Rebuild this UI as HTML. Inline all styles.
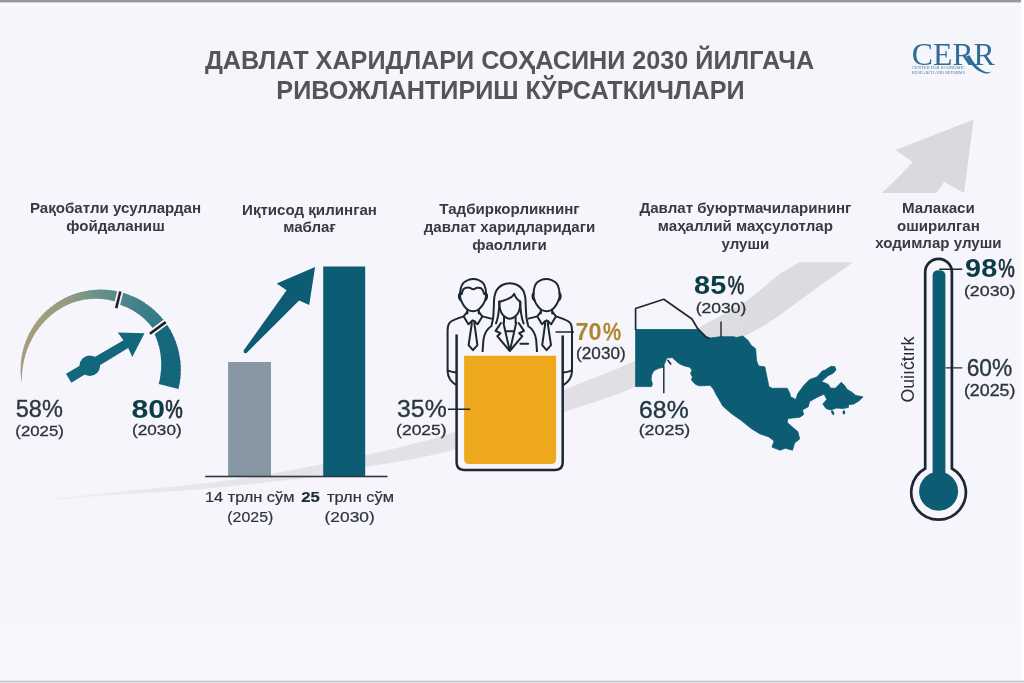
<!DOCTYPE html>
<html lang="uz"><head><meta charset="utf-8"><title>Давлат харидлари соҳасини 2030 йилгача ривожлантириш кўрсаткичлари</title>
<style>
html,body{margin:0;padding:0;background:#f6f5fb;overflow:hidden}
svg{display:block}
text{font-family:"Liberation Sans",sans-serif}
</style></head><body>
<svg width="1024" height="683" viewBox="0 0 1024 683">
<defs>
<linearGradient id="sw" gradientUnits="userSpaceOnUse" x1="40" y1="0" x2="980" y2="0">
<stop offset="0" stop-color="#f0eff4"/><stop offset="0.12" stop-color="#e8e7ec"/><stop offset="0.35" stop-color="#e3e2e7"/><stop offset="0.6" stop-color="#e0dfe4"/><stop offset="0.8" stop-color="#dcdbe0"/><stop offset="1" stop-color="#d9d9dd"/>
</linearGradient>
<linearGradient id="bgg" x1="0" y1="0" x2="0" y2="1"><stop offset="0" stop-color="#f5f6fb"/><stop offset="0.34" stop-color="#f6f5fb"/><stop offset="0.72" stop-color="#f6f5fb"/><stop offset="1" stop-color="#f9f6fc"/></linearGradient>
<linearGradient id="ga" gradientUnits="userSpaceOnUse" x1="22" y1="380" x2="165" y2="320">
<stop offset="0" stop-color="#a9a17c"/><stop offset="0.35" stop-color="#9a9c80"/><stop offset="0.6" stop-color="#6f928c"/><stop offset="0.8" stop-color="#4a858c"/><stop offset="1" stop-color="#2f7a88"/>
</linearGradient>
</defs>
<rect x="0" y="0" width="1024" height="683" fill="url(#bgg)"/>
<clipPath id="swc"><rect x="0" y="0" width="1024" height="193"/><rect x="0" y="262.2" width="1024" height="420"/></clipPath><path d="M40.0,499.0C45.0,498.7 62.2,497.7 70.0,497.0C77.8,496.3 75.0,496.3 87.0,495.0C99.0,493.7 122.3,491.4 142.0,489.4C161.7,487.4 182.2,486.0 205.0,483.2C227.8,480.4 259.4,475.5 279.0,472.3C298.6,469.1 308.1,466.9 322.5,464.0C336.9,461.1 343.2,460.5 365.3,455.1C387.4,449.8 421.5,442.9 454.8,431.9C488.1,420.9 535.2,401.0 565.4,389.1C595.5,377.2 613.0,371.0 635.7,360.5C658.4,350.0 683.0,336.1 701.5,326.2C720.0,316.2 733.7,309.3 746.4,300.8C759.1,292.3 768.9,281.8 777.7,275.4C786.5,268.9 788.7,270.3 799.1,262.1C809.5,253.9 826.2,237.6 840.0,226.0C853.8,214.4 869.9,203.4 882.0,192.8C894.1,182.2 907.6,167.3 912.7,162.2L895.6,150.1L973.7,119.4L964,193L943.7,181.8L943.7,181.8C942.4,183.6 943.9,185.3 935.8,192.8C927.7,200.3 908.8,215.4 895.0,227.0C881.2,238.6 865.9,251.9 852.9,262.1C839.9,272.3 829.2,279.1 816.7,288.1C804.2,297.2 789.7,308.4 777.7,316.4C765.7,324.4 768.3,324.1 744.5,335.9C720.7,347.7 664.9,374.4 635.0,387.0C605.1,399.6 595.4,401.3 565.4,411.7C535.4,422.1 488.1,440.3 454.8,449.6C421.5,458.9 387.4,463.1 365.3,467.4C343.2,471.7 336.9,473.2 322.5,475.5C308.1,477.8 298.6,478.8 279.0,481.0C259.4,483.2 227.8,486.6 205.0,488.7C182.2,490.8 161.7,491.9 142.0,493.3C122.3,494.7 99.0,496.0 87.0,496.9C75.0,497.8 77.8,498.0 70.0,498.4C62.2,498.8 45.0,499.1 40.0,499.3Z" fill="url(#sw)" clip-path="url(#swc)"/>
<rect x="0" y="0" width="1021" height="2.4" fill="#98989b"/>
<rect x="0" y="2.4" width="1021" height="1" fill="#d9d9dc"/>
<rect x="0" y="3.4" width="1024" height="2.2" fill="#fcfcfe"/>
<rect x="1021" y="0" width="3" height="683" fill="#fefefe"/>
<rect x="0" y="680" width="1024" height="1" fill="#ececee"/>
<rect x="0" y="681" width="1024" height="1" fill="#c4c4c6"/>
<rect x="0" y="682" width="1024" height="1" fill="#e6e6e8"/>
<g font-weight="bold" font-size="25.2" fill="#555558" text-anchor="middle"><text x="509.5" y="68.6">ДАВЛАТ ХАРИДЛАРИ СОҲАСИНИ 2030 ЙИЛГАЧА</text><text x="510.5" y="99">РИВОЖЛАНТИРИШ КЎРСАТКИЧЛАРИ</text></g>
<g fill="#2f6d96"><text x="911.8" y="64.7" style="font-family:'Liberation Serif',serif" font-size="31.5" textLength="83" lengthAdjust="spacingAndGlyphs">CERR</text><path d="M966.5,56 C970,64 976,71.6 985.5,73.4 C988,73.8 990,72.8 991.5,71.4 C989,72.4 987,72.4 984.5,71.4 C977,68 972.5,61 969.6,55.2Z"/><text x="912" y="69.4" font-size="3.6" style="font-family:'Liberation Serif',serif" textLength="53" lengthAdjust="spacingAndGlyphs" fill="#4f7fa0">CENTER FOR ECONOMIC</text><text x="912" y="73.6" font-size="3.6" style="font-family:'Liberation Serif',serif" textLength="53" lengthAdjust="spacingAndGlyphs" fill="#4f7fa0">RESEARCH AND REFORMS</text></g>
<g font-weight="bold" font-size="15.1" fill="#363a44" text-anchor="middle"><text x="115.5" y="213.4">Рақобатли усуллардан</text><text x="115.5" y="231.2">фойдаланиш</text></g>
<g font-weight="bold" font-size="15.1" fill="#363a44" text-anchor="middle"><text x="309.5" y="214.6">Иқтисод қилинган</text><text x="309.5" y="232.4">маблағ</text></g>
<g font-weight="bold" font-size="15.1" fill="#363a44" text-anchor="middle"><text x="509.5" y="214.0">Тадбиркорликнинг</text><text x="509.5" y="231.8">давлат харидларидаги</text><text x="509.5" y="249.6">фаоллиги</text></g>
<g font-weight="bold" font-size="15.1" fill="#363a44" text-anchor="middle"><text x="745.4" y="213.4">Давлат буюртмачиларининг</text><text x="745.4" y="231.2">маҳаллий маҳсулотлар</text><text x="745.4" y="249.0">улуши</text></g>
<g font-weight="bold" font-size="15.1" fill="#363a44" text-anchor="middle"><text x="938.4" y="212.7">Малакаси</text><text x="938.4" y="230.5">оширилган</text><text x="938.4" y="248.3">ходимлар улуши</text></g>
<rect x="228.1" y="362" width="42.9" height="114.5" fill="#8796a3"/>
<rect x="323.2" y="266.5" width="42" height="210" fill="#0c5d74"/>
<rect x="205.2" y="475.7" width="182.3" height="1.6" fill="#2c3a42"/>
<path d="M243.6,350.6 L286.6,290.2 L276.7,283.4 L315.1,267.1 L309.2,304.9 L299.1,300.5 L246.6,352.9 Q243.4,354.4 243.6,350.6Z" fill="#0c5d74"/>
<path d="M21.6,382.2L21.0,377.2L21.9,377.2L21.9,382.2Z" fill="#a69e7a"/><path d="M21.0,378.1L20.7,373.1L22.1,373.0L21.9,378.0Z" fill="#a69e7a"/><path d="M20.7,373.9L20.6,368.9L22.6,368.9L22.0,373.8Z" fill="#a69e7a"/><path d="M20.6,369.7L20.8,364.7L23.2,364.8L22.5,369.7Z" fill="#a59e7b"/><path d="M20.7,365.5L21.1,360.5L23.9,360.8L23.0,365.6Z" fill="#a59e7b"/><path d="M21.0,361.3L21.7,356.3L24.8,356.9L23.7,361.6Z" fill="#a59e7b"/><path d="M21.6,357.2L22.5,352.2L26.0,353.0L24.6,357.7Z" fill="#a59e7b"/><path d="M22.4,353.0L23.6,348.2L27.3,349.2L25.7,353.8Z" fill="#a59e7b"/><path d="M23.3,349.0L24.8,344.2L28.9,345.5L27.0,350.0Z" fill="#a49d7c"/><path d="M24.5,344.9L26.2,340.2L30.5,341.9L28.5,346.3Z" fill="#a49d7c"/><path d="M25.9,341.0L27.9,336.4L32.3,338.4L30.2,342.6Z" fill="#a49d7c"/><path d="M27.5,337.1L29.7,332.6L34.2,334.9L31.9,339.1Z" fill="#a49d7c"/><path d="M29.3,333.3L31.8,328.9L36.3,331.6L33.8,335.6Z" fill="#a49d7c"/><path d="M31.3,329.6L34.0,325.4L38.6,328.4L35.9,332.3Z" fill="#a49d7c"/><path d="M33.5,326.1L36.4,321.9L41.0,325.4L38.1,329.1Z" fill="#a39d7d"/><path d="M35.9,322.6L39.0,318.6L43.6,322.4L40.5,326.0Z" fill="#a39d7d"/><path d="M38.5,319.3L41.7,315.5L46.3,319.7L43.0,323.0Z" fill="#a39d7d"/><path d="M41.2,316.1L44.7,312.5L49.1,317.0L45.7,320.2Z" fill="#a19d7e"/><path d="M44.1,313.1L47.7,309.6L52.0,314.5L48.5,317.5Z" fill="#9f9c7e"/><path d="M47.1,310.2L50.9,306.9L55.1,312.1L51.4,315.0Z" fill="#9d9c7f"/><path d="M50.3,307.5L54.3,304.4L58.2,310.0L54.5,312.6Z" fill="#9a9c80"/><path d="M53.6,304.9L57.8,302.1L61.5,307.9L57.6,310.4Z" fill="#989c80"/><path d="M57.1,302.5L61.4,299.9L64.9,306.1L60.8,308.3Z" fill="#969c81"/><path d="M60.7,300.3L65.1,298.0L68.3,304.5L64.2,306.5Z" fill="#949b81"/><path d="M64.3,298.3L68.9,296.2L71.8,303.0L67.6,304.8Z" fill="#929b82"/><path d="M68.1,296.5L72.8,294.6L75.4,301.8L71.1,303.3Z" fill="#8e9a83"/><path d="M72.0,294.9L76.7,293.3L79.1,300.8L74.7,302.0Z" fill="#889984"/><path d="M75.9,293.5L80.8,292.1L82.8,300.0L78.4,301.0Z" fill="#839785"/><path d="M80.0,292.3L84.9,291.2L86.5,299.3L82.1,300.1Z" fill="#7d9686"/><path d="M84.0,291.4L89.0,290.5L90.2,298.9L85.8,299.4Z" fill="#789487"/><path d="M88.2,290.6L93.2,290.0L94.0,298.7L89.5,299.0Z" fill="#729388"/><path d="M92.3,290.0L97.3,289.7L97.7,298.7L93.2,298.7Z" fill="#6d9289"/><path d="M96.5,289.7L101.5,289.6L101.4,298.9L97.0,298.7Z" fill="#699089"/><path d="M100.7,289.6L105.7,289.8L105.1,299.3L100.7,298.9Z" fill="#668f89"/><path d="M104.9,289.7L109.9,290.1L108.8,299.9L104.4,299.2Z" fill="#628e8a"/><path d="M109.1,290.0L114.1,290.7L112.4,300.7L108.0,299.8Z" fill="#5e8c8a"/><path d="M113.2,290.6L118.2,291.5L115.9,301.8L111.6,300.6Z" fill="#5a8b8a"/><path d="M117.4,291.4L122.2,292.6L118.9,304.4L115.2,301.6Z" fill="#54898a"/><path d="M121.4,292.3L126.2,293.8L122.3,305.6L118.2,304.2Z" fill="#4e878b"/><path d="M125.5,293.5L130.2,295.2L125.6,306.9L121.6,305.3Z" fill="#4b868b"/><path d="M129.4,294.9L134.0,296.9L128.8,308.3L124.9,306.6Z" fill="#49858b"/><path d="M133.3,296.5L137.8,298.7L131.9,310.0L128.2,308.0Z" fill="#46848a"/><path d="M137.1,298.3L141.5,300.8L135.0,311.8L131.3,309.6Z" fill="#43828a"/><path d="M140.8,300.3L145.0,303.0L137.9,313.7L134.4,311.4Z" fill="#41818a"/><path d="M144.3,302.5L148.5,305.4L140.7,315.8L137.3,313.3Z" fill="#3e808a"/><path d="M147.8,304.9L151.8,308.0L143.4,318.0L140.2,315.4Z" fill="#3c7f8a"/><path d="M151.1,307.5L154.9,310.7L146.0,320.4L142.9,317.6Z" fill="#397e8a"/><path d="M154.3,310.2L157.9,313.7L148.5,322.9L145.5,319.9Z" fill="#367e8a"/><path d="M157.3,313.1L160.8,316.7L150.8,325.5L148.0,322.4Z" fill="#347d89"/><path d="M160.2,316.1L163.5,319.9L152.9,328.3L150.3,325.0Z" fill="#317c89"/><path d="M162.9,319.3L166.0,323.3L153.5,332.2L152.5,327.7Z" fill="#2c7988"/><path d="M165.5,322.6L168.3,326.8L155.0,335.2L153.7,331.2Z" fill="#1a6a7e"/><path d="M167.9,326.1L170.5,330.4L156.4,338.3L154.7,334.6Z" fill="#17687d"/><path d="M170.1,329.6L172.4,334.1L157.5,341.5L156.1,337.7Z" fill="#17687d"/><path d="M172.1,333.3L174.2,337.9L158.5,344.7L157.3,340.9Z" fill="#16677c"/><path d="M173.9,337.1L175.8,341.8L159.4,347.9L158.3,344.0Z" fill="#16677c"/><path d="M175.5,341.0L177.1,345.7L160.0,351.1L159.2,347.2Z" fill="#16677c"/><path d="M176.9,344.9L178.3,349.8L160.5,354.3L159.9,350.5Z" fill="#16677c"/><path d="M178.1,349.0L179.2,353.9L160.9,357.6L160.5,353.7Z" fill="#15677c"/><path d="M179.0,353.0L179.9,358.0L161.2,360.8L160.8,356.9Z" fill="#15677c"/><path d="M179.8,357.2L180.4,362.2L161.3,364.0L161.1,360.1Z" fill="#15667b"/><path d="M180.4,361.3L180.7,366.3L161.2,367.2L161.3,363.3Z" fill="#15667b"/><path d="M180.7,365.5L180.8,370.5L161.0,370.3L161.3,366.5Z" fill="#14667b"/><path d="M180.8,369.7L180.6,374.7L160.7,373.5L161.1,369.7Z" fill="#14667b"/><path d="M180.7,373.9L180.3,378.9L160.3,376.6L160.7,372.8Z" fill="#14667b"/><path d="M180.4,378.1L179.7,383.1L159.8,379.7L160.4,376.0Z" fill="#14657a"/><path d="M179.8,382.2L178.9,387.2L159.1,382.8L159.9,379.1Z" fill="#13657a"/><path d="M179.0,386.4L178.5,388.9L158.7,384.1L159.2,382.1Z" fill="#13657a"/>
<line x1="120.3" y1="291.5" x2="116.2" y2="308.1" stroke="#f6f5fb" stroke-width="6.2"/><line x1="120.3" y1="291.5" x2="116.2" y2="308.1" stroke="#1e1e24" stroke-width="2.6"/>
<line x1="165.7" y1="322.1" x2="149.9" y2="333.7" stroke="#f6f5fb" stroke-width="6.2"/><line x1="165.7" y1="322.1" x2="149.9" y2="333.7" stroke="#1e1e24" stroke-width="2.6"/>
<path d="M66.0,373.8L123.5,340.2L117.7,332.5L144.5,333.3L132.3,356.9L128.2,348.1L71.3,382.8Z" fill="#13677d"/><circle cx="89.8" cy="365.7" r="10.3" fill="#13677d"/>
<path d="M460.0,296.4C459.9,294.4 460.1,291.3 460.6,289.1C461.1,286.9 461.9,284.7 463.2,283.2C464.5,281.7 466.8,280.6 468.5,279.9C470.2,279.2 471.7,279.1 473.3,279.1C474.9,279.1 476.6,279.2 478.2,279.9C479.8,280.6 482.0,281.7 483.2,283.2C484.4,284.7 485.1,286.9 485.6,289.1C486.1,291.3 486.1,294.4 486.0,296.4C485.9,298.4 485.4,299.5 484.8,301.0C484.2,302.5 483.4,304.1 482.2,305.6C481.0,307.1 479.4,309.1 477.9,310.0C476.4,310.9 474.6,311.3 473.0,311.3C471.4,311.3 469.6,310.9 468.1,310.0C466.6,309.1 465.1,307.3 464.0,305.8C462.9,304.3 462.1,302.8 461.4,301.2C460.7,299.6 460.1,298.4 460.0,296.4Z" fill="#f6f5fb" stroke="#1c2733" stroke-width="2.0"/><path d="M460.2,293.4 Q458.4,294 459.1,297.8 Q459.6,300.2 461.0,300.4" fill="none" stroke="#1c2733" stroke-width="2.0" stroke-linecap="round" stroke-linejoin="round"/><path d="M485.8,293.4 Q487.6,294 486.9,297.8 Q486.4,300.2 485.0,300.4" fill="none" stroke="#1c2733" stroke-width="2.0" stroke-linecap="round" stroke-linejoin="round"/><path d="M461.7,294.2C462.0,293.4 462.3,290.3 463.4,289.2C464.5,288.1 466.9,287.6 468.5,287.6C470.1,287.6 471.7,289.3 473.1,289.3C474.5,289.3 475.7,287.9 477.1,287.8C478.5,287.7 480.5,287.6 481.7,288.7C482.9,289.8 483.9,293.3 484.3,294.2" fill="none" stroke="#1c2733" stroke-width="2.0" stroke-linecap="round" stroke-linejoin="round"/><path d="M467.4,309.6V313.6M478.8,309.6V313.6" fill="none" stroke="#1c2733" stroke-width="2.0" stroke-linecap="round" stroke-linejoin="round"/><path d="M467.2,311.8L463.7,316.4L468.4,324.2L472.8,320.4L477.6,324.2L482.3,316.4L478.8,311.8" fill="none" stroke="#1c2733" stroke-width="2.0" stroke-linecap="round" stroke-linejoin="round"/><path d="M471.1,321.4L471.8,323.6L468.6,345.2L473.0,350.2L477.4,345.2L474.4,323.6L475.1,321.4" fill="none" stroke="#1c2733" stroke-width="2.0" stroke-linecap="round" stroke-linejoin="round"/><path d="M463.7,316.4 C457.0,318.4 452.0,320 449.8,322.6 C447.6,325 447.6,328 447.6,331 V371.2 C447.8,376.5 450.5,381.6 456.4,385.2 M447.6,370.4 Q452.0,372.4 456.4,372.6" fill="none" stroke="#1c2733" stroke-width="2.0" stroke-linecap="round" stroke-linejoin="round"/><path d="M482.3,316.4 L491.2,318.6" fill="none" stroke="#1c2733" stroke-width="2.0" stroke-linecap="round" stroke-linejoin="round"/><path d="M559.6,296.4C559.7,294.4 559.5,291.3 559.0,289.1C558.5,286.9 557.7,284.7 556.4,283.2C555.1,281.7 552.8,280.6 551.1,279.9C549.4,279.2 547.9,279.1 546.3,279.1C544.7,279.1 543.0,279.2 541.4,279.9C539.8,280.6 537.6,281.7 536.4,283.2C535.2,284.7 534.5,286.9 534.0,289.1C533.5,291.3 533.5,294.4 533.6,296.4C533.7,298.4 534.2,299.5 534.8,301.0C535.4,302.5 536.2,304.1 537.4,305.6C538.5,307.1 540.2,309.1 541.7,310.0C543.2,310.9 545.0,311.3 546.6,311.3C548.2,311.3 550.0,310.9 551.5,310.0C553.0,309.1 554.5,307.3 555.6,305.8C556.7,304.3 557.5,302.8 558.2,301.2C558.9,299.6 559.5,298.4 559.6,296.4Z" fill="#f6f5fb" stroke="#1c2733" stroke-width="2.0"/><path d="M559.4,293.4 Q561.2,294 560.5,297.8 Q560.0,300.2 558.6,300.4" fill="none" stroke="#1c2733" stroke-width="2.0" stroke-linecap="round" stroke-linejoin="round"/><path d="M533.8,293.4 Q532.0,294 532.7,297.8 Q533.2,300.2 534.6,300.4" fill="none" stroke="#1c2733" stroke-width="2.0" stroke-linecap="round" stroke-linejoin="round"/><path d="M552.2,309.6V313.6M540.8,309.6V313.6" fill="none" stroke="#1c2733" stroke-width="2.0" stroke-linecap="round" stroke-linejoin="round"/><path d="M552.4,311.8L555.9,316.4L551.2,324.2L546.8,320.4L542.0,324.2L537.3,316.4L540.8,311.8" fill="none" stroke="#1c2733" stroke-width="2.0" stroke-linecap="round" stroke-linejoin="round"/><path d="M548.5,321.4L547.8,323.6L551.0,345.2L546.6,350.2L542.2,345.2L545.2,323.6L544.5,321.4" fill="none" stroke="#1c2733" stroke-width="2.0" stroke-linecap="round" stroke-linejoin="round"/><path d="M555.9,316.4 C562.6,318.4 567.6,320 569.8,322.6 C572.0,325 572.0,328 572.0,331 V371.2 C571.8,376.5 569.1,381.6 563.2,385.2 M572.0,370.4 Q567.6,372.4 563.2,372.6" fill="none" stroke="#1c2733" stroke-width="2.0" stroke-linecap="round" stroke-linejoin="round"/><path d="M537.3,316.4 L528.4,318.6" fill="none" stroke="#1c2733" stroke-width="2.0" stroke-linecap="round" stroke-linejoin="round"/><path d="M491.5,325.4C491.8,324.1 492.7,320.9 493.1,317.9C493.5,314.9 493.6,310.8 493.8,307.3C494.0,303.8 493.9,299.7 494.4,296.8C494.9,293.9 495.5,291.9 496.8,289.9C498.1,287.9 500.0,286.1 502.2,285.0C504.4,283.9 507.3,283.3 509.8,283.3C512.3,283.3 515.2,283.9 517.4,285.0C519.6,286.1 521.5,287.9 522.8,289.9C524.1,291.9 524.7,293.9 525.2,296.8C525.7,299.7 525.6,303.8 525.8,307.3C526.0,310.8 526.1,314.9 526.5,317.9C526.9,320.9 527.8,324.1 528.1,325.4" fill="#f6f5fb" stroke="#1c2733" stroke-width="2.0" stroke-linejoin="round"/><path d="M491.5,326.0 C486.8,329 484.2,334 483.4,340 L482.6,351.6 H537.0 L536.2,340 C535.4,334 532.8,329 528.1,326.0 Z" fill="#f6f5fb" stroke="none"/><path d="M491.5,326.0 C486.8,329 484.2,334 483.4,340 L482.6,351.6 M537.0,351.6 L536.2,340 C535.4,334 532.8,329 528.1,326.0" fill="none" stroke="#1c2733" stroke-width="2.0" stroke-linecap="round" stroke-linejoin="round"/><path d="M499.4,301.6C499.4,302.5 499.3,305.2 499.6,307.0C499.9,308.8 500.4,310.8 501.2,312.4C502.0,314.0 503.2,315.5 504.6,316.6C506.0,317.7 508.1,318.8 509.8,318.8C511.5,318.8 513.6,317.7 515.0,316.6C516.4,315.5 517.6,314.0 518.4,312.4C519.2,310.8 519.7,308.8 520.0,307.0C520.3,305.2 520.2,302.5 520.2,301.6" fill="none" stroke="#1c2733" stroke-width="2.0" stroke-linecap="round" stroke-linejoin="round"/><path d="M499.4,301.8 C503.8,300.6 511.8,299 514.2,293.8 C515.2,297.6 517.8,300 520.2,301.8" fill="none" stroke="#1c2733" stroke-width="2.0" stroke-linecap="round" stroke-linejoin="round"/><path d="M499.4,301.8 C499.2,310 498.2,318 496.0,323.4 M520.2,301.8 C520.4,310 521.4,318 523.6,323.4" fill="none" stroke="#1c2733" stroke-width="2.0" stroke-linecap="round" stroke-linejoin="round"/><path d="M504.0,316.9V322.4M515.6,316.9V322.4" fill="none" stroke="#1c2733" stroke-width="2.0" stroke-linecap="round" stroke-linejoin="round"/><path d="M500.9,323.0L495.6,330.9L500.4,333.2L497.3,336.2L509.8,351.0L522.3,336.2L519.2,333.2L524.0,330.9L518.7,323.0" fill="none" stroke="#1c2733" stroke-width="2.0" stroke-linecap="round" stroke-linejoin="round"/><path d="M503.4,322.8L509.2,348.6M516.2,322.8L510.4,348.6M505.4,331.2H514.2" fill="none" stroke="#1c2733" stroke-width="2.0" stroke-linecap="round" stroke-linejoin="round"/><path d="M520.4,343.8H528.2" fill="none" stroke="#1c2733" stroke-width="2.0" stroke-linecap="round" stroke-linejoin="round"/>
<path d="M456.6,352V462.6Q456.6,470 464,470H555.3Q562.7,470 562.7,462.6V352Z" fill="#f6f5fb"/>
<path d="M456.6,334.4V462.6Q456.6,470 464,470H555.3Q562.7,470 562.7,462.6V335.6" fill="none" stroke="#1c2733" stroke-width="2.5" stroke-linecap="butt"/>
<path d="M464.1,355.7H556.1V459Q556.1,464.1 551,464.1H469.2Q464.1,464.1 464.1,459Z" fill="#eda81e"/>
<path d="M448,409.3H470.2M555.6,332H574" stroke="#1c2733" stroke-width="1.4" fill="none"/>
<rect x="636" y="346" width="76" height="98" fill="#f6f5fb"/>
<path d="M636.4,387.5V360.8L700,327" fill="none"/>
<path d="M635.6,330V308.5L663.8,299.3L692,319L697.7,328.7L705.7,336.7L708.9,338.3V345H635.6Z" fill="#f5f4f9" stroke="none"/>
<path d="M635.6,329.5L698.3,329.5L705.7,336.7L708.9,338.3L720.2,336.7L733.1,336.7L737.1,337.5L742.8,335.9L747.6,339.9L751.5,345.6L755.6,348.7L756.6,361.0L758.7,366.1L764.8,366.8L768.9,386.6L772.0,388.3L787.2,388.2L789.9,393.5L790.5,396.8L795.8,399.4L797.8,393.5L803.7,385.6L809.6,379.6L816.9,377.0L822.2,371.1L825.5,369.8L830.7,366.5L834.7,366.5L836.0,369.8L833.4,373.1L828.1,375.7L821.5,381.6L828.1,384.3L830.7,388.2L835.3,388.2L841.3,382.3L844.6,385.6L847.2,389.5L851.8,392.2L855.8,395.5L863.0,396.8L859.1,400.7L853.8,404.0L848.5,404.7L848.5,407.3L843.2,408.6L836.7,408.0L830.7,409.9L826.1,408.6L822.8,404.0L826.8,399.4L824.1,394.1L816.9,397.4L809.6,401.4L808.3,406.7L802.4,409.9L803.7,414.6L799.8,417.2L787.9,418.5L787.2,422.5L793.2,427.7L797.8,431.7L799.7,438.9L794.6,443.0L792.5,450.2L785.3,448.2L780.2,450.2L772.0,447.1L774.1,441.0L768.9,436.9L759.7,433.8L751.5,428.7L741.3,420.5L731.0,413.3L722.8,406.1L718.8,398.9L716.1,394.5L713.5,389.2L710.0,385.3L704.7,385.7L698.6,385.7L695.0,383.9L691.5,380.0L692.4,376.9L690.6,373.4L692.0,369.9L689.8,367.2L684.5,365.9L679.2,363.7L675.7,360.7L672.2,357.6L666.9,358.0L664.3,364.2L663.0,367.2L658.1,368.6L653.7,370.8L651.5,375.2L651.1,379.6L652.4,383.9L651.5,386.6L635.6,386.6Z" fill="#0c5d74" stroke="#0c5d74" stroke-width="0.8" stroke-linejoin="round"/>
<path d="M635.6,330V308.5L663.8,299.3L692,319L697.7,328.7L705.7,336.7L709.5,338.4" fill="none" stroke="#1c2733" stroke-width="1.7" stroke-linejoin="round"/>
<ellipse cx="832.7" cy="412.6" rx="1.3" ry="2.5" transform="rotate(-25 832.7 412.6)" fill="#0c5d74"/><ellipse cx="843.9" cy="412.4" rx="1.3" ry="2.1" fill="#0c5d74"/>
<path d="M721,321.4V337M663.8,365.5V393.2" stroke="#1c2733" stroke-width="1.4" fill="none"/>
<path d="M667.6,360L671.2,364.4" stroke="#1c2733" stroke-width="1.6" fill="none"/>
<path d="M925.2,468.5 A27.3,27.3 0 1 0 951.9,468.5 V272.2 A13.35,13.35 0 0 0 925.2,272.2 Z" fill="#f6f5fb" stroke="#1c2733" stroke-width="2.7"/>
<circle cx="938.6" cy="491.3" r="19.5" fill="#0c5d74"/>
<path d="M932.6,480V275.5Q932.6,270.2 938.9,270.2Q945.4,270.2 945.4,275.5V480Z" fill="#0c5d74"/>
<path d="M939.3,269.3H962.3M945.8,367.9H962.3" stroke="#1c2733" stroke-width="1.4" fill="none"/>
<text transform="translate(913.6,402.6) rotate(-90)" font-size="17.5" fill="#2a2f36" textLength="66" lengthAdjust="spacingAndGlyphs">Ouiıćtırk</text>
<text x="15.8" y="417.4" font-size="24.16" fill="#2b3840" stroke="#2b3840" stroke-width="0.35" textLength="47.07" lengthAdjust="spacingAndGlyphs">58%</text>
<text x="15.3" y="435.5" font-size="15.08" fill="#2c343c" stroke="#2c343c" stroke-width="0.3" textLength="48.57" lengthAdjust="spacingAndGlyphs">(2025)</text>
<text x="131.4" y="417.8" font-size="25.56" font-weight="bold" fill="#0b3d47" stroke="#0b3d47" stroke-width="0.0" textLength="33.61" lengthAdjust="spacingAndGlyphs">80</text>
<text x="165.3" y="417.8" font-size="25.14" fill="#22313a" stroke="#22313a" stroke-width="0.75" textLength="17.54" lengthAdjust="spacingAndGlyphs">%</text>
<text x="132.1" y="435.2" font-size="15.08" fill="#2c343c" stroke="#2c343c" stroke-width="0.3" textLength="49.57" lengthAdjust="spacingAndGlyphs">(2030)</text>
<text x="397.1" y="416.6" font-size="24.58" fill="#2b3840" stroke="#2b3840" stroke-width="0.35" textLength="49.58" lengthAdjust="spacingAndGlyphs">35%</text>
<text x="396.1" y="435.1" font-size="15.22" fill="#2c343c" stroke="#2c343c" stroke-width="0.3" textLength="50.57" lengthAdjust="spacingAndGlyphs">(2025)</text>
<text x="575.4" y="340.4" font-size="24.3" font-weight="bold" fill="#ad872d" stroke="#ad872d" stroke-width="0.0" textLength="26.11" lengthAdjust="spacingAndGlyphs">70</text>
<text x="603.0" y="340.4" font-size="24.3" fill="#ad872d" stroke="#ad872d" stroke-width="0.75" textLength="18.04" lengthAdjust="spacingAndGlyphs">%</text>
<text x="576.1" y="359.3" font-size="16.06" fill="#2c343c" stroke="#2c343c" stroke-width="0.3" textLength="49.57" lengthAdjust="spacingAndGlyphs">(2030)</text>
<text x="694.1" y="294.2" font-size="25.28" font-weight="bold" fill="#0b3d47" stroke="#0b3d47" stroke-width="0.0" textLength="32.09" lengthAdjust="spacingAndGlyphs">85</text>
<text x="727.7" y="294.2" font-size="25.14" fill="#1c3038" stroke="#1c3038" stroke-width="0.75" textLength="16.53" lengthAdjust="spacingAndGlyphs">%</text>
<text x="695.7" y="312.7" font-size="15.22" fill="#2c343c" stroke="#2c343c" stroke-width="0.3" textLength="50.6" lengthAdjust="spacingAndGlyphs">(2030)</text>
<text x="639.1" y="417.8" font-size="24.72" fill="#1d3640" stroke="#1d3640" stroke-width="0.35" textLength="49.57" lengthAdjust="spacingAndGlyphs">68%</text>
<text x="638.7" y="435.2" font-size="15.22" fill="#2c343c" stroke="#2c343c" stroke-width="0.3" textLength="51.56" lengthAdjust="spacingAndGlyphs">(2025)</text>
<text x="965.1" y="277" font-size="25.28" font-weight="bold" fill="#0b3d47" stroke="#0b3d47" stroke-width="0.0" textLength="32.09" lengthAdjust="spacingAndGlyphs">98</text>
<text x="998.3" y="277" font-size="25.14" fill="#1c3038" stroke="#1c3038" stroke-width="0.75" textLength="16.53" lengthAdjust="spacingAndGlyphs">%</text>
<text x="963.9" y="296.3" font-size="15.22" fill="#2c343c" stroke="#2c343c" stroke-width="0.3" textLength="51.56" lengthAdjust="spacingAndGlyphs">(2030)</text>
<text x="966.7" y="376.2" font-size="24.16" fill="#2b3840" stroke="#2b3840" stroke-width="0.35" textLength="45.54" lengthAdjust="spacingAndGlyphs">60%</text>
<text x="963.9" y="395.5" font-size="15.64" fill="#2c343c" stroke="#2c343c" stroke-width="0.3" textLength="51.56" lengthAdjust="spacingAndGlyphs">(2025)</text>
<text x="204.9" y="502" font-size="14.8" fill="#2c343c" stroke="#2c343c" stroke-width="0.2" textLength="89.54" lengthAdjust="spacingAndGlyphs">14 трлн сўм</text>
<text x="301.2" y="502" font-size="14.94" font-weight="bold" fill="#1f2b33" stroke="#1f2b33" stroke-width="0.2" textLength="18.54" lengthAdjust="spacingAndGlyphs">25</text>
<text x="327.0" y="502" font-size="14.8" fill="#2c343c" stroke="#2c343c" stroke-width="0.2" textLength="67.01" lengthAdjust="spacingAndGlyphs">трлн сўм</text>
<text x="227.3" y="522.1" font-size="14.66" fill="#2c343c" stroke="#2c343c" stroke-width="0.2" textLength="46.06" lengthAdjust="spacingAndGlyphs">(2025)</text>
<text x="324.6" y="522.1" font-size="14.66" fill="#2c343c" stroke="#2c343c" stroke-width="0.2" textLength="50.1" lengthAdjust="spacingAndGlyphs">(2030)</text>
</svg>
</body></html>
